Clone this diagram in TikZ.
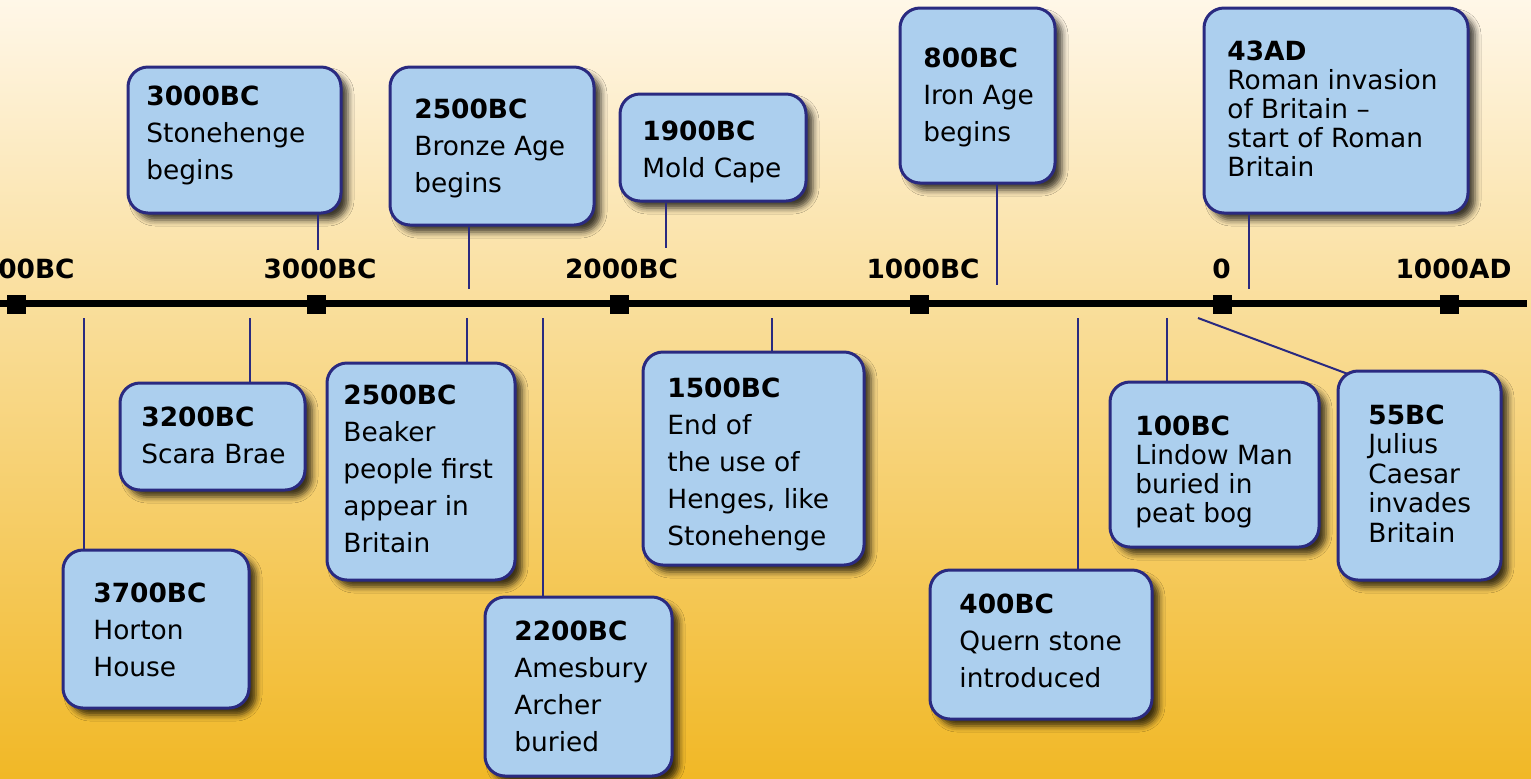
\documentclass[tikz,border=0pt]{standalone}
\usepackage{fontspec}
\setmainfont{DejaVu Sans}
\usetikzlibrary{shadows.blur}
\definecolor{boxblue}{HTML}{ACCFEE}
\definecolor{navy}{HTML}{2A2A80}
\definecolor{bgtop}{HTML}{FFF7E8}
\definecolor{bgmid}{HTML}{FADB98}
\definecolor{bgbot}{HTML}{F1B826}
\tikzset{
  evbox/.style={draw=navy, line width=1.5pt, fill=boxblue, rounded corners=10pt, inner sep=0pt,
    blur shadow={shadow xshift=3.5pt, shadow yshift=-3.5pt, shadow blur radius=3pt, shadow opacity=75}},
  evtext/.style={inner sep=0pt, anchor=base west, font=\fontsize{13.2}{18.5}\selectfont},
  conn/.style={draw=navy, line width=1pt},
  tick/.style={fill=black, inner sep=0pt, minimum size=9.5pt},
  lbl/.style={inner sep=0pt, anchor=base, font=\fontsize{13.2}{16}\selectfont\bfseries},
  axis/.style={line width=3.5pt, draw=black}
}
% #1 name, #2 left, #3 top, #4 right, #5 bottom, #6 text x, #7 first baseline, #8 line skip, #9 text
\newcommand\evnt[9]{%
  \node[evbox, minimum width={(#4-#2)*0.5pt}, minimum height={(#5-#3)*0.5pt}] (#1) at ({(#2+#4)/2},{(#3+#5)/2}) {};
  \node[evtext] (#1t) at (#6,#7) {\parbox[t]{150pt}{\raggedright\setlength\baselineskip{#8}#9}};
}
\begin{document}
\begin{tikzpicture}[x=0.5pt,y=-0.5pt]
\useasboundingbox (0,0) rectangle (1531,778);
\clip (0,0) rectangle (1531,778);
\shade[top color=bgtop, middle color=bgmid, bottom color=bgbot] (0,0) rectangle (1531,778);

% axis
\coordinate (axL) at (0,303);
\coordinate (axR) at (1527,303);
\draw[axis] (axL) -- (axR);
\node[tick] (k4) at (16.5,304) {};
\node[tick] (k3) at (316.5,304) {};
\node[tick] (k2) at (619,304) {};
\node[tick] (k1) at (919,304) {};
\node[tick] (k0) at (1222,304) {};
\node[tick] (kA) at (1449.5,304) {};
\node[lbl] (l4) at (18,278) {4000BC};
\node[lbl] (l3) at (320,278) {3000BC};
\node[lbl] (l2) at (621.5,278) {2000BC};
\node[lbl] (l1) at (923,278) {1000BC};
\node[lbl] (l0) at (1221.5,278) {0};
\node[lbl] (lA) at (1453.5,278) {1000AD};

% top events
\evnt{b1}{128}{67}{341}{213}{146}{105}{18.6pt}{\textbf{3000BC}\\Stonehenge\\begins}
\evnt{b2}{390}{67}{594}{225}{414}{118}{18.6pt}{\textbf{2500BC}\\Bronze Age\\begins}
\evnt{b3}{620}{94}{806}{201}{642}{140}{18.6pt}{\textbf{1900BC}\\Mold Cape}
\evnt{b4}{900}{8}{1055}{183}{923}{67}{18.5pt}{\textbf{800BC}\\Iron Age\\begins}
\evnt{b5}{1204}{8}{1468}{213}{1227}{60}{14.6pt}{\textbf{43AD}\\Roman invasion\\of Britain --\\start of Roman\\Britain}

% bottom events
\evnt{b6}{120}{383}{305}{490}{141}{426}{18.6pt}{\textbf{3200BC}\\Scara Brae}
\evnt{b7}{63}{550}{249}{708}{93}{602}{18.6pt}{\textbf{3700BC}\\Horton\\House}
\evnt{b8}{327}{363}{515}{580}{343}{404}{18.6pt}{\textbf{2500BC}\\Beaker\\people first\\appear in\\Britain}
\evnt{b9}{485}{597}{672}{776}{514}{640}{18.6pt}{\textbf{2200BC}\\Amesbury\\Archer\\buried}
\evnt{b10}{643}{352}{864}{565}{667}{397}{18.6pt}{\textbf{1500BC}\\End of\\the use of\\Henges, like\\Stonehenge}
\evnt{b11}{930}{570}{1152}{719}{959}{613}{18.6pt}{\textbf{400BC}\\Quern stone\\introduced}
\evnt{b12}{1110}{382}{1319}{547}{1135}{435}{14.6pt}{\textbf{100BC}\\Lindow Man\\buried in\\peat bog}
\evnt{b13}{1338}{371}{1501}{580}{1368}{424}{14.8pt}{\textbf{55BC}\\Julius\\Caesar\\invades\\Britain}

% connectors, top
\coordinate (e1) at (318,250);
\coordinate (e2) at (469,289);
\coordinate (e3) at (666,248);
\coordinate (e4) at (997,285);
\coordinate (e5) at (1249,289);
\draw[conn] (e1 |- b1.south) -- (e1);
\draw[conn] (e2 |- b2.south) -- (e2);
\draw[conn] (e3 |- b3.south) -- (e3);
\draw[conn] (e4 |- b4.south) -- (e4);
\draw[conn] (e5 |- b5.south) -- (e5);
% connectors, bottom
\coordinate (e6) at (250,318);
\coordinate (e7) at (84,318);
\coordinate (e8) at (467,318);
\coordinate (e9) at (543,318);
\coordinate (e10) at (772,318);
\coordinate (e11) at (1078,318);
\coordinate (e12) at (1167,318);
\coordinate (e13) at (1198,318);
\coordinate (f13) at (1348,374);
\draw[conn] (e6) -- (e6 |- b6.north);
\draw[conn] (e7) -- (e7 |- b7.north);
\draw[conn] (e8) -- (e8 |- b8.north);
\draw[conn] (e9) -- (e9 |- b9.north);
\draw[conn] (e10) -- (e10 |- b10.north);
\draw[conn] (e11) -- (e11 |- b11.north);
\draw[conn] (e12) -- (e12 |- b12.north);
\draw[conn] (e13) -- (f13);
\end{tikzpicture}
\end{document}
